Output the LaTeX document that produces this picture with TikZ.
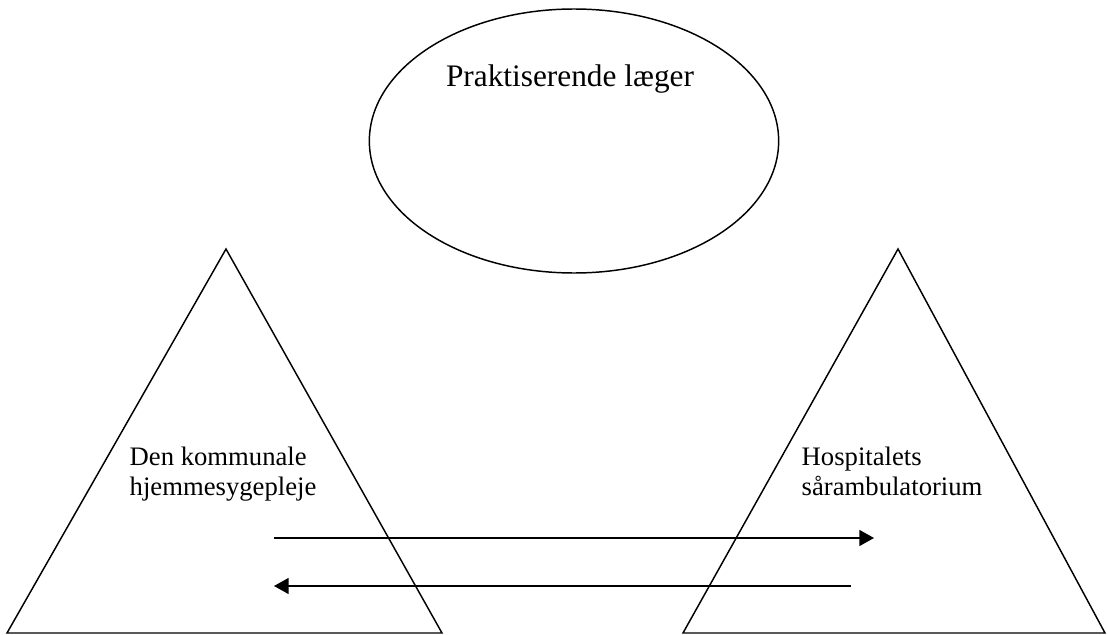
\documentclass[tikz,border=0pt]{standalone}
\usepackage{fontspec}
\setmainfont{Liberation Serif}
\usetikzlibrary{shapes.geometric,arrows.meta}
\begin{document}
\begin{tikzpicture}[x=0.75pt, y=-0.75pt, line width=1.1pt, >={Triangle[length=11pt, width=12pt]}]
    \useasboundingbox (0,0) rectangle (1108,635);

    % Ellisse
    \node[draw, ellipse, minimum width=307pt, minimum height=198pt, inner sep=0pt] (laeger) at (574,141) {};
    \node[anchor=base, font=\fontsize{23.5pt}{26pt}\selectfont] (laegertxt) at (570,87) {Praktiserende læger};

    % Triangoli
    \coordinate (kA) at (226,249);
    \coordinate (kB) at (7,633);
    \coordinate (kC) at (442,633);
    \draw (kA) -- (kB) -- (kC) -- cycle;

    \coordinate (hA) at (898,249);
    \coordinate (hB) at (683,633);
    \coordinate (hC) at (1105,633);
    \draw (hA) -- (hB) -- (hC) -- cycle;

    % Etichette (base = ultima riga)
    \node[anchor=base west, align=left, inner sep=0pt, font=\fontsize{20pt}{22.5pt}\selectfont] (komm) at (129,495) {Den kommunale\\hjemmesygepleje};
    \node[anchor=base west, align=left, inner sep=0pt, font=\fontsize{20pt}{22.5pt}\selectfont] (hosp) at (801,495) {Hospitalets\\sårambulatorium};

    % Frecce
    \coordinate (r1) at (274,538);
    \coordinate (r2) at (874,538);
    \coordinate (l1) at (851,586);
    \coordinate (l2) at (274,586);
    \draw[->] (r1) -- (r2);
    \draw[->] (l1) -- (l2);
\end{tikzpicture}
\end{document}
